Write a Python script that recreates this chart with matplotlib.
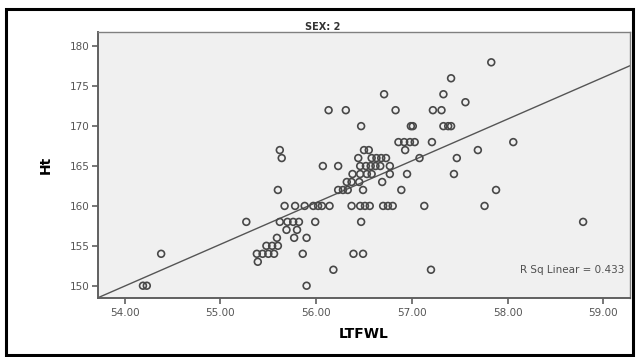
import numpy as np
import matplotlib
matplotlib.use("Agg")
import matplotlib.pyplot as plt
from matplotlib.patches import Rectangle

plt.rcParams['font.family'] = ['DejaVu Sans']

# LTFWL values grouped by height row
ltfwl = [
    57.83,
    57.41,
    56.71, 57.33,
    57.56,
    56.13, 56.31, 56.83, 57.22, 57.31,
    56.47, 56.99, 57.01, 57.33, 57.38, 57.41,
    56.86, 56.92, 56.98, 57.03, 57.21, 58.06,
    55.62, 56.50, 56.55, 56.93, 57.69,
    55.64, 56.44, 56.58, 56.63, 56.68, 56.73, 57.08, 57.47,
    56.07, 56.23, 56.46, 56.52, 56.57, 56.62, 56.67, 56.77,
    56.38, 56.46, 56.53, 56.58, 56.77, 56.95, 57.44,
    56.32, 56.37, 56.45, 56.69,
    55.60, 56.23, 56.28, 56.33, 56.49, 56.89, 57.88,
    55.67, 55.78, 55.88, 55.97, 56.02, 56.06, 56.14, 56.37, 56.46, 56.51,
    56.56, 56.70, 56.75, 56.80, 57.13, 57.76,
    55.27, 55.62, 55.70, 55.76, 55.82, 55.99, 56.47, 58.79,
    55.69, 55.80,
    55.59, 55.77, 55.90,
    55.48, 55.54, 55.60,
    54.38, 55.38, 55.44, 55.50, 55.56, 55.86, 56.39, 56.49,
    55.39,
    56.18, 57.20,
    54.19, 54.23, 55.90,
]
ht = (
    [178] + [176] + [174] * 2 + [173] + [172] * 5 + [170] * 6 + [168] * 6
    + [167] * 5 + [166] * 8 + [165] * 8 + [164] * 7 + [163] * 4 + [162] * 7
    + [160] * 16 + [158] * 8 + [157] * 2 + [156] * 3 + [155] * 3 + [154] * 8
    + [153] + [152] * 2 + [150] * 3
)

# linear fit line as drawn in the picture
fit_slope = 5.23
fit_intercept = -132.46

x_ticks = [54, 55, 56, 57, 58, 59]
y_ticks = [150, 155, 160, 165, 170, 175, 180]
r_sq_label = "R Sq Linear = 0.433"
panel_title = "SEX: 2"

x = np.array(ltfwl)
y = np.array(ht, dtype=float)

W, H = 636, 357
fig = plt.figure(figsize=(W / 100, H / 100), dpi=100)
fig.patch.set_facecolor('white')

# outer black frame
fig.patches.append(Rectangle((6 / W, 2 / H), 627 / W, 346 / H, transform=fig.transFigure,
                             fill=False, edgecolor='black', linewidth=2.2))

ax = fig.add_axes([98 / W, 1 - 298 / H, 532 / W, 266 / H])
ax.set_facecolor('#f0f0f0')

xlim = (53.72, 59.28)
ylim = (148.46, 181.8)
ax.set_xlim(*xlim)
ax.set_ylim(*ylim)

xs = np.array(xlim)
ax.plot(xs, fit_intercept + fit_slope * xs, color='#555555', linewidth=1.0, zorder=2)
ax.scatter(x, y, s=24, facecolors='none', edgecolors='#484848', linewidths=1.2, zorder=3)

ax.set_xticks(x_ticks)
ax.set_xticklabels([f"{v:.2f}" for v in x_ticks])
ax.set_yticks(y_ticks)
ax.tick_params(axis='both', direction='out', length=4, width=1.2, color='#606060',
               labelsize=7.5, labelcolor='#555555', pad=2)
ax.tick_params(axis='x', pad=3)
for s in ax.spines.values():
    s.set_color('#808080')
    s.set_linewidth(1.0)
ax.spines['left'].set_color('#606060')
ax.spines['bottom'].set_color('#606060')
ax.spines['left'].set_linewidth(1.4)
ax.spines['bottom'].set_linewidth(1.4)

ax.set_xlabel("LTFWL", fontsize=10, fontweight='bold', labelpad=7)
ax.set_ylabel("Ht", fontsize=10, fontweight='bold', labelpad=12)

ax.text(0.99, 0.105, r_sq_label, transform=ax.transAxes, ha='right', va='center',
        fontsize=7.5, color='#505050')
fig.text(323 / W, 1 - 27 / H, panel_title, ha='center', va='center', fontsize=7,
         fontweight='bold', color='#333333')

fig.savefig("out.png", dpi=100)
